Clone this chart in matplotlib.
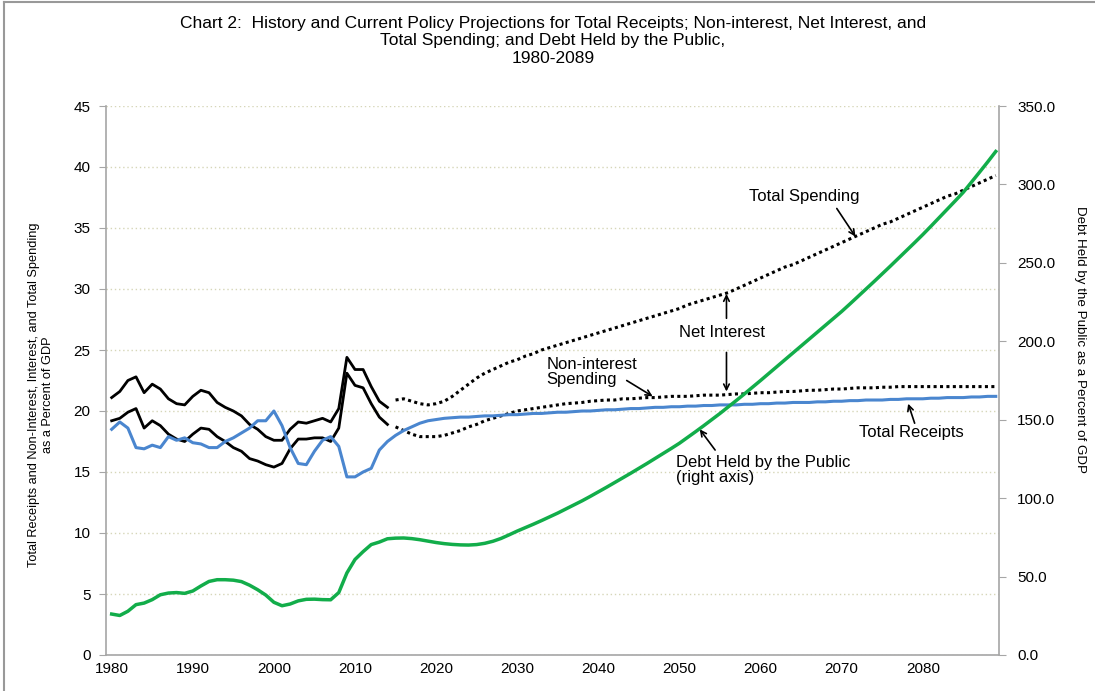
import numpy as np
import matplotlib.pyplot as plt
from matplotlib.lines import Line2D

plt.rcParams['font.family'] = ['Liberation Sans', 'DejaVu Sans']

# percent of GDP, history 1980-2014
receipts_hist = [18.5, 19.1, 18.6, 17.0, 16.9, 17.2, 17.0, 17.9, 17.6, 17.8,
                 17.4, 17.3, 17.0, 17.0, 17.5, 17.8, 18.2, 18.6, 19.2, 19.2,
                 20.0, 18.8, 17.0, 15.7, 15.6, 16.7, 17.6, 17.9, 17.1, 14.6,
                 14.6, 15.0, 15.3, 16.8, 17.5]
spending_hist = [21.1, 21.6, 22.5, 22.8, 21.5, 22.2, 21.8, 21.0, 20.6, 20.5,
                 21.2, 21.7, 21.5, 20.7, 20.3, 20.0, 19.6, 18.9, 18.5, 17.9,
                 17.6, 17.6, 18.5, 19.1, 19.0, 19.2, 19.4, 19.1, 20.2, 24.4,
                 23.4, 23.4, 22.0, 20.8, 20.3]
nonint_hist = [19.2, 19.4, 19.9, 20.2, 18.6, 19.2, 18.8, 18.1, 17.7, 17.5,
               18.1, 18.6, 18.5, 17.9, 17.5, 17.0, 16.7, 16.1, 15.9, 15.6,
               15.4, 15.7, 16.9, 17.7, 17.7, 17.8, 17.8, 17.5, 18.6, 23.1,
               22.1, 21.9, 20.6, 19.5, 18.9]
debt_hist = [26.1, 25.2, 27.9, 32.1, 33.1, 35.3, 38.4, 39.5, 39.8, 39.3,
             40.8, 44.0, 46.9, 48.0, 48.0, 47.7, 46.8, 44.5, 41.6, 38.2,
             33.6, 31.4, 32.5, 34.5, 35.5, 35.6, 35.3, 35.2, 39.8, 52.3,
             60.9, 65.9, 70.4, 72.0, 74.1]

# current policy projections 2015-2089
receipts_proj = [18.0, 18.4, 18.7, 19.0, 19.2, 19.3, 19.4, 19.45, 19.5, 19.5,
                 19.55, 19.6, 19.6, 19.65, 19.7, 19.7, 19.75, 19.8, 19.8, 19.85,
                 19.9, 19.9, 19.95, 20.0, 20.0, 20.05, 20.1, 20.1, 20.15, 20.2,
                 20.2, 20.25, 20.3, 20.3, 20.35, 20.35, 20.4, 20.4, 20.45, 20.45,
                 20.5, 20.5, 20.5, 20.55, 20.55, 20.6, 20.6, 20.65, 20.65, 20.7,
                 20.7, 20.7, 20.75, 20.75, 20.8, 20.8, 20.85, 20.85, 20.9, 20.9,
                 20.9, 20.95, 20.95, 21.0, 21.0, 21.0, 21.05, 21.05, 21.1, 21.1,
                 21.1, 21.15, 21.15, 21.2, 21.2]
spending_proj = [20.9, 21.0, 20.8, 20.6, 20.5, 20.6, 20.8, 21.2, 21.7, 22.2,
                 22.7, 23.1, 23.4, 23.7, 24.0, 24.2, 24.5, 24.7, 25.0, 25.2,
                 25.4, 25.6, 25.8, 26.0, 26.2, 26.4, 26.6, 26.8, 27.0, 27.2,
                 27.4, 27.6, 27.8, 28.0, 28.2, 28.4, 28.7, 28.9, 29.1, 29.3,
                 29.5, 29.7, 30.0, 30.3, 30.6, 30.9, 31.2, 31.5, 31.8, 32.0,
                 32.3, 32.6, 32.9, 33.2, 33.5, 33.8, 34.1, 34.4, 34.7, 35.0,
                 35.3, 35.5, 35.8, 36.1, 36.4, 36.7, 37.0, 37.3, 37.6, 37.8,
                 38.1, 38.4, 38.7, 39.0, 39.3]
nonint_proj = [18.7, 18.4, 18.1, 17.9, 17.9, 17.9, 18.0, 18.2, 18.4, 18.7,
               18.9, 19.2, 19.4, 19.6, 19.8, 20.0, 20.1, 20.2, 20.3, 20.4,
               20.5, 20.6, 20.65, 20.7, 20.8, 20.85, 20.9, 20.9, 21.0, 21.0,
               21.05, 21.1, 21.1, 21.15, 21.2, 21.2, 21.2, 21.25, 21.3, 21.3,
               21.3, 21.35, 21.4, 21.4, 21.45, 21.5, 21.5, 21.55, 21.6, 21.6,
               21.65, 21.7, 21.7, 21.75, 21.8, 21.8, 21.85, 21.9, 21.9, 21.9,
               21.95, 21.95, 22.0, 22.0, 22.0, 22.0, 22.0, 22.0, 22.0, 22.0,
               22.0, 22.0, 22.0, 22.0, 22.0]
debt_proj = [74.5, 74.6, 74.2, 73.5, 72.6, 71.7, 71.0, 70.5, 70.2, 70.1,
             70.4, 71.2, 72.5, 74.3, 76.6, 79.0, 81.2, 83.4, 85.7, 88.1,
             90.5, 93.1, 95.7, 98.3, 101.1, 104.0, 106.9, 109.9, 112.9, 115.9,
             119.0, 122.1, 125.3, 128.5, 131.7, 135.0, 138.7, 142.4, 146.2, 150.1,
             154.0, 158.1, 162.2, 166.4, 170.7, 175.0, 179.4, 183.8, 188.2, 192.6,
             197.0, 201.4, 205.8, 210.2, 214.6, 219.0, 223.7, 228.5, 233.3, 238.1,
             243.0, 247.9, 252.9, 257.9, 262.9, 268.0, 273.3, 278.7, 284.1, 289.5,
             295.0, 301.4, 307.8, 314.3, 321.0]

hist_years = np.arange(1980, 1980 + len(spending_hist))
proj_years = np.arange(2015, 2015 + len(spending_proj))
all_years = np.arange(1980, 1980 + len(receipts_hist) + len(receipts_proj))
receipts = receipts_hist + receipts_proj
debt = debt_hist + debt_proj

W, H = 1095, 691
fig = plt.figure(figsize=(W / 100, H / 100), dpi=100)
ax = fig.add_axes([106 / W, 1 - 655 / H, (999 - 106) / W, (655 - 106) / H])
ax2 = ax.twinx()

grey = '#a6a6a6'
blue = '#4a86cf'
green = '#12ad4a'

ax.plot(hist_years, spending_hist, color='black', lw=2.0)
ax.plot(hist_years, nonint_hist, color='black', lw=2.0)
ax.plot(proj_years, spending_proj, color='black', lw=2.2, linestyle=(0, (1, 1.1)))
ax.plot(proj_years, nonint_proj, color='black', lw=2.2, linestyle=(0, (1, 1.1)))
ax.plot(all_years, receipts, color=blue, lw=2.2)
ax2.plot(all_years, debt, color=green, lw=2.5)

ax.set_xlim(1979.3, 2089.4)
ax.set_ylim(0, 45)
ax2.set_ylim(0, 350)
ax.set_xticks(np.arange(1980, 2081, 10))
ax.set_yticks(np.arange(0, 46, 5))
ax2.set_yticks(np.arange(0, 351, 50))
ax2.set_yticklabels([f'{v:.1f}' for v in np.arange(0, 351, 50)])

ax.grid(axis='y', color='#d6d6b8', linestyle=(0, (1, 2)), lw=1)
ax.set_axisbelow(True)

for s in ['top', 'right']:
    ax.spines[s].set_visible(False)
for s in ['top', 'left', 'bottom']:
    ax2.spines[s].set_visible(False)
for sp in [ax.spines['left'], ax.spines['bottom'], ax2.spines['right']]:
    sp.set_color(grey)
    sp.set_linewidth(1.2)

ax.tick_params(axis='y', direction='out', length=5, color=grey, labelsize=11, pad=6)
ax.tick_params(axis='x', length=0, labelsize=11, pad=5)
ax2.tick_params(axis='y', direction='out', length=5, color=grey, labelsize=11, pad=8)

fig.text(553 / W, 1 - 41 / H,
         'Chart 2:  History and Current Policy Projections for Total Receipts; Non-interest, Net Interest, and\n'
         'Total Spending; and Debt Held by the Public,\n1980-2089',
         ha='center', va='center', fontsize=12.5, linespacing=1.18)
fig.text(41 / W, 1 - 395 / H,
         'Total Receipts and Non-Interest, Interest, and Total Spending\nas a Percent of GDP',
         rotation=90, ha='center', va='center', fontsize=9.2, linespacing=1.2)
fig.text(1080 / W, 1 - 340 / H, 'Debt Held by the Public as a Percent of GDP',
         rotation=270, ha='center', va='center', fontsize=9.6)

arrow = dict(arrowstyle='->', color='black', lw=1.2, shrinkA=0, shrinkB=0)
fs = 12
ax.text(2065.4, 37.6, 'Total Spending', ha='center', va='center', fontsize=fs)
ax.annotate('', xy=(2071.7, 34.3), xytext=(2069.4, 36.6), arrowprops=arrow)

ax.text(2055.2, 26.4, 'Net Interest', ha='center', va='center', fontsize=fs)
ax.annotate('', xy=(2055.8, 29.6), xytext=(2055.8, 27.6), arrowprops=arrow)
ax.annotate('', xy=(2055.8, 21.6), xytext=(2055.8, 24.8), arrowprops=arrow)

ax.text(2033.6, 23.2, 'Non-interest\nSpending', ha='left', va='center', fontsize=fs,
        linespacing=1.05)
ax.annotate('', xy=(2046.7, 21.2), xytext=(2043.5, 22.5), arrowprops=arrow)

ax.text(2049.6, 15.2, 'Debt Held by the Public\n(right axis)', ha='left', va='center',
        fontsize=fs, linespacing=1.0)
ax.annotate('', xy=(2052.5, 18.5), xytext=(2054.4, 16.8), arrowprops=arrow)

ax.text(2078.6, 18.2, 'Total Receipts', ha='center', va='center', fontsize=fs)
ax.annotate('', xy=(2078.2, 20.6), xytext=(2079.0, 19.0), arrowprops=arrow)

# chart area border (left and top edges visible in the original)
fig.add_artist(Line2D([4 / W, 4 / W], [0, 1 - 2 / H], color='#999999', lw=1.5))
fig.add_artist(Line2D([4 / W, 1], [1 - 2 / H, 1 - 2 / H], color='#999999', lw=1.5))

fig.savefig('out.png', dpi=100)
